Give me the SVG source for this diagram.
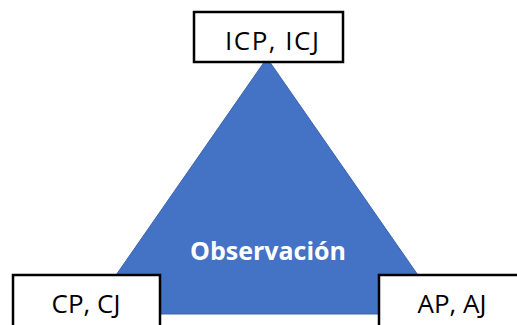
<svg xmlns="http://www.w3.org/2000/svg" width="517" height="325" viewBox="0 0 517 325">
<style>
.box{fill:#fff;stroke:#000;stroke-width:2.5}
.lbl{font-family:"Open Sans","Noto Sans",sans-serif;font-size:26px;fill:#000;text-anchor:middle}
.tri{fill:#4472C4;stroke:#3A64AE;stroke-width:1}
.tl{font-family:"Open Sans","Noto Sans",sans-serif;font-size:25px;font-weight:bold;fill:#fff;text-anchor:middle}
</style>
<g id="triangle">
<polygon class="tri" points="267,58 445,314 89,314"/>
<text class="tl" x="268" y="260">Observación</text>
</g>
<g id="connectors"></g>
<g id="top">
<rect class="box" x="194" y="12" width="149" height="50"/>
<text class="lbl" x="272" y="50" textLength="94" lengthAdjust="spacing">ICP, ICJ</text>
</g>
<g id="left">
<rect class="box" x="13" y="275" width="147" height="60"/>
<text class="lbl" x="86" y="313">CP, CJ</text>
</g>
<g id="right">
<rect class="box" x="379" y="275" width="150" height="60"/>
<text class="lbl" x="452" y="313">AP, AJ</text>
</g>
</svg>
